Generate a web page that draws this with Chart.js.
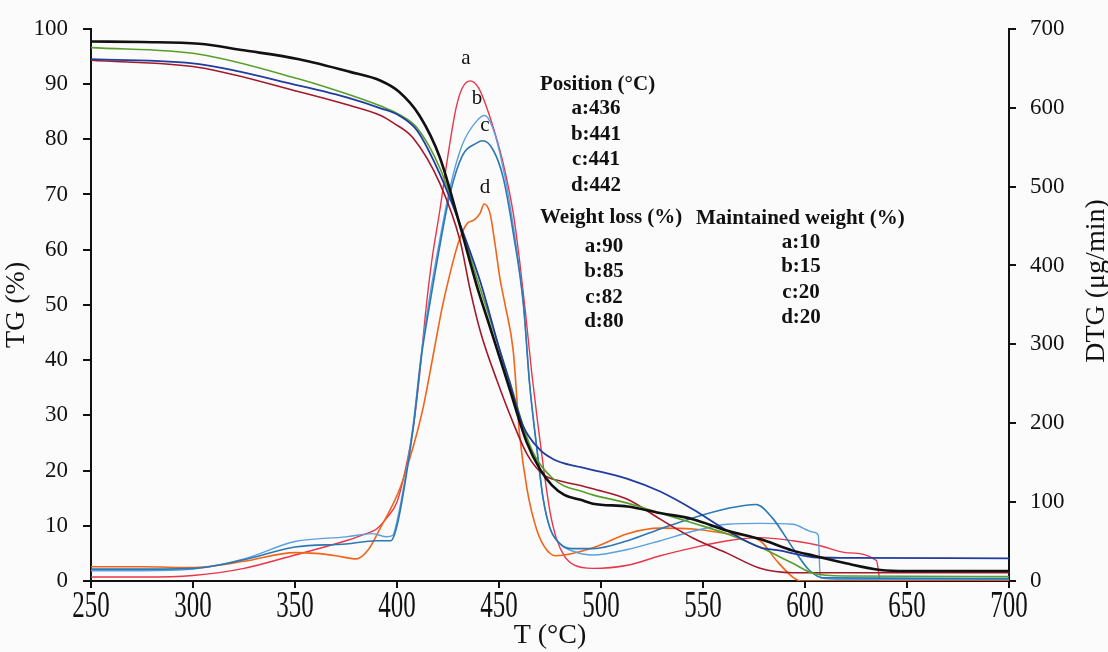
<!DOCTYPE html>
<html>
<head>
<meta charset="utf-8">
<script src="https://cdn.jsdelivr.net/npm/chart.js@4.4.1/dist/chart.umd.min.js"></script>
<style>
html, body { margin: 0; padding: 0; background: #fbfbfb; }
#okvir { width: 1108px; height: 652px; }
</style>
</head>
<body>
<div id="okvir"><canvas id="graf" width="1108" height="652"></canvas></div>
<script>
// TG krive (lijeva osa, %)
const tgCrnaT = [250, 275, 303, 325, 352, 377, 392, 401, 411, 421, 431, 439, 446, 455, 463.6, 470, 476, 482, 490, 496, 513, 529, 545, 562, 578, 594, 604, 620, 637, 650, 700];
const tgCrna = [97.7, 97.6, 97.3, 96.1, 94.5, 92.2, 90.6, 88.6, 84.3, 76.7, 64.2, 53.6, 45.5, 35, 25.1, 20.3, 17.3, 15.6, 14.7, 14.0, 13.5, 12.3, 11.2, 9.1, 7.6, 5.5, 4.6, 3.2, 2.0, 1.8, 1.8];

const tgZelenaT = [250, 303, 352, 377, 392, 401, 410, 421, 431, 439, 446, 455, 463.7, 468.6, 476, 482, 490, 496, 513, 529, 545, 562, 578, 594, 604, 620, 700];
const tgZelena = [96.6, 95.4, 90.9, 88.0, 86.0, 84.5, 82.0, 74.8, 64.5, 55.0, 47.0, 36.5, 26.0, 22.0, 18.7, 17.2, 16.3, 15.6, 14.1, 12.3, 10.5, 8.5, 6.1, 3.2, 1.4, 0.9, 0.8];

const tgPlavaT = [250, 303, 352, 377, 392, 401, 410, 421, 431, 441, 450.5, 455, 461.8, 470, 476, 482, 490, 496, 513, 529, 545, 562, 578, 588, 594, 604, 620, 700];
const tgPlava = [94.5, 93.6, 89.7, 87.4, 85.6, 84.3, 81.5, 73.7, 64.5, 54, 41.6, 36.2, 28.1, 23.8, 22.2, 21.3, 20.6, 20.1, 18.5, 16.2, 13.0, 9.1, 6.1, 5.5, 5.0, 4.3, 4.2, 4.1];

const tgBordoT = [250, 303, 352, 377, 392, 398, 408, 421, 431, 436, 441, 449, 457, 464, 472, 480, 490, 496, 513, 529, 545, 562, 578, 594, 700];
const tgBordo = [94.3, 93.0, 88.6, 86.1, 84.3, 83.0, 80.2, 72, 61.5, 52.5, 45, 36.3, 28.6, 22.8, 19.2, 18.1, 17.3, 16.7, 14.8, 11.2, 7.8, 5.0, 2.3, 1.5, 1.5];

// DTG krive (desna osa, µg/min)
const dtgAT = [250, 275, 300, 325, 350, 375, 385, 390, 395, 400, 404, 408, 411, 414, 417, 421, 425, 429, 432, 436, 440, 444, 448, 452, 457, 460, 463, 466, 469, 472, 475, 478, 482, 487, 496, 513, 529, 545, 562, 578, 594, 607, 620, 635, 637, 700];
const dtgA = [5, 5, 7, 16, 33, 51, 60, 66, 80, 100, 140, 195, 260, 340, 405, 470, 540, 600, 625, 634, 625, 600, 568, 530, 466, 408, 340, 265, 200, 140, 88, 55, 32, 20, 16, 20, 32, 42, 51, 55, 51, 45, 36, 26, 0, 0];

const dtgBT = [250, 275, 300, 325, 350, 375, 388, 395, 398, 400, 404, 408, 412, 416, 421, 426, 432, 439, 443, 447, 452, 457, 462, 465, 468.6, 471.6, 475, 480, 486, 496, 513, 529, 545, 562, 578, 594, 604, 606.5, 607.5, 620, 700];
const dtgB = [13, 13, 15, 28, 50, 56, 60, 56, 58, 76, 130, 200, 290, 360, 433, 499, 553, 583, 590, 574, 524, 450, 350, 250, 167, 105, 67, 47, 38, 33, 40, 51, 63, 72, 73, 72, 62, 58, 4, 2, 2];

const dtgCT = [250, 275, 300, 325, 350, 375, 390, 397, 400, 404, 408, 412, 416, 421, 426, 432, 439, 442, 447, 452, 457, 462, 465, 468.6, 471.6, 475, 480, 486, 496, 513, 529, 545, 562, 576, 584, 594, 602, 609, 700];
const dtgC = [15, 15, 16, 27, 43, 47, 51, 51, 70, 125, 195, 285, 350, 425, 491, 539, 555, 558, 547, 512, 441, 350, 250, 167, 105, 67, 47, 41, 41, 51, 66, 80, 92, 97, 80, 42, 14, 4, 3];

const dtgDT = [250, 275, 300, 325, 350, 360, 370, 380, 386, 392, 397, 401.5, 405, 409, 413, 418, 422, 426, 430, 434, 438, 440.7, 442.7, 445.6, 448, 450.5, 453, 457, 460, 463.7, 468.6, 473.5, 478, 496, 513, 529, 545, 562, 578, 586, 594, 598, 700];
const dtgD = [18, 18, 17, 25, 36, 35, 32, 28, 40, 68, 92, 118, 145, 180, 222, 290, 345, 390, 428, 452, 458, 466, 478, 466, 428, 383, 350, 291, 188, 117, 64, 39, 32, 42, 60, 67, 66, 60, 51, 26, 5, 0, 0];

// tekst na grafu
const oznakePikova = ["a", "b", "c", "d"];
const pozicija = ["a:436", "b:441", "c:441", "d:442"];
const gubitakMase = ["a:90", "b:85", "c:82", "d:80"];
const zadrzanaMasa = ["a:10", "b:15", "c:20", "d:20"];

const FONT = '"Liberation Serif", "Times New Roman", serif';

function tacke(tx, ty) {
    return tx.map((t, i) => ({ x: t, y: ty[i] }));
}

function linija(tx, ty, boja, debljina, osa) {
    return {
        data: tacke(tx, ty),
        borderColor: boja,
        borderWidth: debljina,
        pointRadius: 0,
        fill: false,
        cubicInterpolationMode: 'monotone',
        yAxisID: osa
    };
}

const tekstPlugin = {
    id: 'tekstPlugin',
    afterDraw(chart) {
        const ctx = chart.ctx;
        const xs = chart.scales.x;
        ctx.save();
        ctx.fillStyle = '#111';
        ctx.textBaseline = 'middle';

        // oznake x ose (izduzene kao na originalu)
        ctx.textAlign = 'center';
        ctx.font = '25px ' + FONT;
        xs.ticks.forEach(t => {
            ctx.save();
            ctx.translate(xs.getPixelForValue(t.value), 607);
            ctx.scale(1, 1.5);
            ctx.fillText(String(t.value), 0, 0);
            ctx.restore();
        });

        // naslov desne ose
        ctx.save();
        ctx.font = '28px ' + FONT;
        ctx.translate(1097, 281);
        ctx.rotate(-Math.PI / 2);
        ctx.fillText("DTG (\u03bcg/min)", 0, 0);
        ctx.restore();

        // slova iznad pikova
        ctx.font = '21px ' + FONT;
        const slovaXY = [[466, 58], [477, 98], [485, 125], [485, 187]];
        oznakePikova.forEach((s, i) => ctx.fillText(s, slovaXY[i][0], slovaXY[i][1]));

        ctx.font = 'bold 21px ' + FONT;
        ctx.textAlign = 'left';
        ctx.fillText("Position (\u00b0C)", 540, 85);
        ctx.fillText("Weight loss (%)", 540, 218);
        ctx.fillText("Maintained weight (%)", 696, 219);

        ctx.textAlign = 'center';
        const yPoz = [109, 135, 160, 186];
        pozicija.forEach((s, i) => ctx.fillText(s, 596, yPoz[i]));
        const yGub = [247, 272, 298, 322];
        gubitakMase.forEach((s, i) => ctx.fillText(s, 604, yGub[i]));
        const yZad = [243, 267, 293, 318];
        zadrzanaMasa.forEach((s, i) => ctx.fillText(s, 801, yZad[i]));

        ctx.restore();
    }
};

new Chart(document.getElementById("graf"), {
    type: 'line',
    data: {
        datasets: [
            linija(tgCrnaT, tgCrna, '#111111', 2.6, 'y'),
            linija(tgPlavaT, tgPlava, '#1f3c9e', 1.8, 'y'),
            linija(tgZelenaT, tgZelena, '#56a02a', 1.6, 'y'),
            linija(tgBordoT, tgBordo, '#a3182a', 1.6, 'y'),
            linija(dtgCT, dtgC, '#2a78b4', 1.6, 'y1'),
            linija(dtgBT, dtgB, '#5a9fe0', 1.4, 'y1'),
            linija(dtgDT, dtgD, '#f26418', 1.6, 'y1'),
            linija(dtgAT, dtgA, '#e8364a', 1.4, 'y1')
        ]
    },
    options: {
        responsive: false,
        animation: false,
        devicePixelRatio: 1,
        layout: { padding: { top: 19, left: 0, right: 0, bottom: 0 } },
        plugins: {
            legend: { display: false },
            tooltip: { enabled: false }
        },
        scales: {
            x: {
                type: 'linear',
                min: 250,
                max: 700,
                border: { display: true, color: '#111', width: 2 },
                grid: { drawOnChartArea: false, drawTicks: true, tickLength: 7, color: '#111', lineWidth: 2 },
                ticks: { stepSize: 50, color: 'rgba(0,0,0,0)', font: { size: 25, family: FONT } },
                title: { display: true, text: 'T (\u00b0C)', color: '#111', font: { size: 28, family: FONT }, padding: 0 },
                afterFit: s => { s.height = 71; }
            },
            y: {
                position: 'left',
                min: 0,
                max: 100,
                border: { display: true, color: '#111', width: 2 },
                grid: { drawOnChartArea: false, drawTicks: true, tickLength: 8, color: '#111', lineWidth: 2 },
                ticks: { stepSize: 10, padding: 15, color: '#111', font: { size: 23, family: FONT } },
                title: { display: true, text: 'TG (%)', color: '#111', font: { size: 28, family: FONT }, padding: 0 },
                afterFit: s => { s.width = 91; }
            },
            y1: {
                position: 'right',
                min: 0,
                max: 700,
                border: { display: true, color: '#111', width: 2 },
                grid: { drawOnChartArea: false, drawTicks: true, tickLength: 7, color: '#111', lineWidth: 2 },
                ticks: { stepSize: 100, padding: 14, color: '#111', font: { size: 23, family: FONT } },
                afterFit: s => { s.width = 99; }
            }
        }
    },
    plugins: [tekstPlugin]
});
</script>
</body>
</html>
